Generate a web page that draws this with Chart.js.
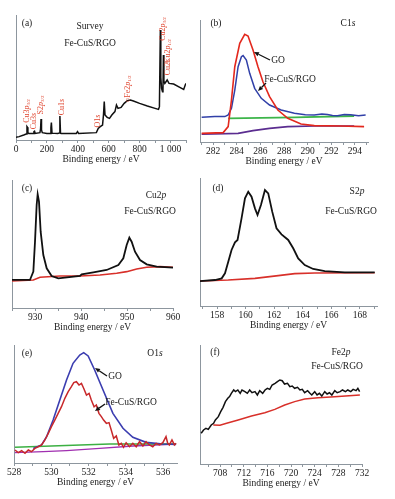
<!DOCTYPE html>
<html>
<head>
<meta charset="utf-8">
<script src="https://cdn.jsdelivr.net/npm/chart.js@4.4.1/dist/chart.umd.min.js"></script>
<style>
html,body{margin:0;padding:0;background:#fff;}
body{width:395px;height:499px;position:relative;overflow:hidden;font-family:"Liberation Serif","Times New Roman",serif;}
.t{position:absolute;font-size:9.5px;color:#1a1a1a;white-space:nowrap;line-height:1;transform:translate(-50%,-50%);}
.r{position:absolute;font-size:8px;color:#e0452f;white-space:nowrap;line-height:1;transform:translate(-50%,-50%) rotate(-90deg);}
.r sub{font-size:5px;vertical-align:-1px;}
svg{position:absolute;left:0;top:0;}
</style>
</head>
<body>
<script>
// (a) survey spectrum
const surveyE = [0,20,50,66,71,74,77,82,110,116,120,124,155,159,162,165,170,200,222,226,229,233,270,280,284,288,292,390,398,405,520,532,545,560,566,571,576,590,605,620,640,650,660,680,700,720,740,760,800,850,900,922,928,934,937,942,948,951,954,957,963,978,990,1020,1060,1085,1095,1100];
const surveyI = [2.1,2.7,4,4.8,10.7,10.2,5.8,5.3,5.3,6.7,7.0,5.3,5.9,9,16.8,8,5.9,5.3,5.3,10,13.9,5.5,5.3,5.6,19.2,5.5,5.3,5.3,6.7,5.3,5.9,9.3,10.7,12,20,30.7,20,18.1,17.3,20,22.7,28,25.3,26.1,29.3,31.5,32,31.2,29.3,27.2,25.3,24.5,26.7,88,50,41.3,38.7,40,68,47,45.3,48,45.3,44.8,42.1,40.5,44,45.3];

// (b) C1s
const c1sGoE = [281.04,282.86,283.28,283.56,283.84,284.26,284.68,284.96,285.38,285.80,286.22,286.78,287.48,288.32,289.44,290.56,292.80,294.77];
const c1sGoI = [7.1,7.7,12.6,34.4,61.7,80.9,88.3,86.9,75.4,61.7,49.4,37.2,26.2,19.4,14.8,13.4,13.1,12.6];
const c1sFeE = [281.04,282.16,283.0,283.28,283.56,283.84,284.12,284.40,284.54,284.82,285.10,285.52,286.08,286.78,287.76,288.88,289.8,290.56,291.2,291.68,292.1,292.52,293.1,293.64,294.3,294.9];
const c1sFeI = [20.2,20.8,20.8,22.1,27.6,42.6,61.7,69.9,70.8,67.2,56.3,44.0,35.8,30.3,26.2,23.5,22.4,22.1,23.0,22.6,21.8,21.5,22.6,22.4,21.6,22.1];
const c1sBgGreenE = [283.28,288.9,293.93];
const c1sBgGreenI = [19.4,20.2,21.3];
const c1sBgPurpleE = [281.04,284.12,285.38,286.78,288.32,290.56,293.93];
const c1sBgPurpleI = [6.3,7.1,9.3,11.2,12.6,13.1,13.1];

// (c) Cu2p
const cu2pE = [925,928.9,929.64,930.0,930.36,930.58,930.87,931.23,931.81,932.54,933.62,935.07,939.78,940.15,942.68,945.58,948.12,949.20,949.93,950.51,951.01,951.74,952.83,954.28,956.45,960];
const cu2pI = [21.9,21.9,28.4,51.8,80.5,88.8,83.1,59.6,41.4,31.0,25.0,23.2,25.0,26.3,27.9,29.7,33.6,38.8,49.2,54.9,51.8,44.0,37.5,34.1,32.3,31.5];
const cu2pBgE = [925,929.64,931.09,935.43,939.78,944.13,947.75,949.93,952.10,954.28,957.17,960];
const cu2pBgI = [21.1,21.9,24.0,25.0,25.0,25.8,27.1,28.4,30.5,31.8,32.3,31.8];

// (d) S2p
const s2pE = [156.8,157.85,158.32,158.55,158.78,159.01,159.25,159.43,159.71,159.95,160.18,160.41,160.65,160.83,161.07,161.35,161.58,161.86,162.16,162.51,162.98,163.33,163.68,164.14,164.73,165.54,166.94,169.04];
const s2pI = [19.5,20.3,21.6,25.5,34.6,43.8,49.7,51.6,68.5,84.1,89.3,85.4,76.3,71.1,78.9,90.6,88.0,73.7,60.7,56.0,51.6,45.1,37.2,32.0,28.9,27.3,26.3,26.3];
const s2pBgE = [156.8,158.78,160.65,162.28,163.44,164.84,169.04];
const s2pBgI = [19.5,20.3,21.6,23.7,25.3,25.8,26.0];

// (e) O1s
const o1sGoE = [529.03,529.48,529.75,530.10,530.46,530.82,531.17,531.53,531.74,531.98,532.33,532.78,533.31,533.85,534.38,535.09,535.99,536.70];
const o1sGoI = [12.4,15.3,22.3,36.4,53.4,70.3,84.5,91.5,93.5,90.7,78.8,61.9,42.1,29.4,21.8,17.5,16.1,15.8];
const o1sFeE = [528.05,528.23,528.41,528.59,528.77,528.94,529.12,529.30,529.48,529.66,529.84,530.01,530.19,530.37,530.55,530.73,530.91,531.08,531.21,531.35,531.49,531.62,531.74,531.89,532.03,532.15,532.30,532.42,532.56,532.69,532.81,532.96,533.10,533.22,533.35,533.49,533.63,533.76,533.88,534.02,534.20,534.38,534.56,534.74,534.92,535.09,535.27,535.45,535.63,535.81,535.99,536.16,536.25,536.34,536.48,536.61,536.70];
const o1sFeI = [11.0,8.8,10.5,8.2,11.0,9.6,12.4,13.8,15.3,19.5,25.1,30.8,36.4,42.1,47.7,54.8,60.5,64.7,68.1,68.9,66.1,67.5,63.3,57.6,59.0,53.4,47.7,49.2,42.1,39.3,36.4,33.6,34.2,28.0,20.9,22.9,15.3,16.7,13.3,17.2,13.8,16.7,13.8,18.1,14.4,18.1,15.3,13.8,16.7,15.3,17.2,22.3,16.7,15.3,19.5,15.3,16.7];
const o1sBgGreenE = [528.05,533.13,536.70];
const o1sBgGreenI = [13.3,16.1,16.1];
const o1sBgPurpleE = [528.05,529.57,530.82,532.60,534.38,536.70];
const o1sBgPurpleI = [8.8,9.6,10.5,12.4,14.4,16.1];

// (f) Fe2p
const fe2pE = [704.8,705.2,705.6,706.0,706.5,706.9,707.2,707.7,708.1,708.5,708.9,709.3,709.6,709.9,710.3,710.6,711.0,711.4,711.7,712.2,712.6,713.0,713.4,713.9,714.3,714.7,715.2,715.6,716.0,716.4,716.8,717.3,717.7,718.1,718.5,718.9,719.4,719.8,720.2,720.6,721.1,721.5,721.9,722.3,722.8,723.2,723.5,724.0,724.4,724.8,725.2,725.7,726.1,726.5,726.9,727.4,727.8,728.3,728.7,729.2,729.6,730.1,730.5,731.0,731.3,731.6];
const fe2pI = [25.8,28.6,30.0,29.1,32.8,34.2,37.0,39.8,44.0,47.6,52.4,55.2,56.6,59.4,62.2,60.8,62.2,59.4,62.2,60.8,59.4,62.2,59.9,60.8,58.0,61.6,59.4,62.2,63.6,62.7,66.4,67.8,69.2,70.6,70.0,67.2,67.8,65.0,65.5,63.6,64.4,62.2,62.7,59.9,61.6,59.4,58.0,60.8,58.0,59.4,57.1,60.8,58.8,59.9,58.0,61.6,59.9,60.8,62.2,60.8,62.2,60.8,62.7,61.6,63.6,60.8];
const fe2pBgE = [706.85,707.97,709.10,711.06,713.31,715.56,717.25,718.93,720.62,722.31,724.56,727.37,731.64];
const fe2pBgI = [32.8,32.6,34.2,37.0,40.3,43.1,45.9,49.6,52.4,54.6,55.7,56.6,58.0];

const AX = '#8d969e', INK = '#1a1a1a', FONT = '"Liberation Serif", "Times New Roman", serif';

const pts = (xs, ys) => xs.map((x, i) => ({x: x, y: ys[i]}));

function panel(box, xOpt, series) {
	let padL = 12, padR = 14, padT = 4, axisH = 25,
		w = Math.round(box.r - box.l) + padL + padR,
		h = (box.b - box.t) + padT + axisH,
		cv = document.createElement('canvas');
	cv.width = w; cv.height = h;
	cv.style.cssText = 'position:absolute;left:' + (box.l - padL) + 'px;top:' + (box.t - padT) + 'px;width:' + w + 'px;height:' + h + 'px';
	document.body.appendChild(cv);
	new Chart(cv, {
		type: 'line',
		data: {datasets: series.map(s => ({
			data: pts(s.x, s.y),
			borderColor: s.c,
			borderWidth: s.w || 1.4,
			pointRadius: 0,
			tension: 0,
			fill: false
		}))},
		options: {
			responsive: false,
			animation: false,
			events: [],
			layout: {padding: {left: padL, right: padR, top: padT, bottom: 0}},
			plugins: {legend: {display: false}, tooltip: {enabled: false}},
			scales: {
				x: {
					type: 'linear',
					min: xOpt.min, max: xOpt.max,
					afterFit: s => { s.height = axisH; },
					//tick marks on every step, whatever the axis bounds are
					afterBuildTicks: s => {
						let t = [], v = Math.ceil(xOpt.min / xOpt.step - 1e-9) * xOpt.step;
						for (; v <= xOpt.max + 1e-9; v += xOpt.step) t.push({value: Math.round(v * 1000) / 1000});
						s.ticks = t;
					},
					border: {display: true, color: AX, width: 1},
					grid: {display: true, drawOnChartArea: false, drawTicks: true, tickLength: 3, color: AX},
					ticks: {
						autoSkip: false, maxRotation: 0, padding: 1,
						color: INK, font: {family: FONT, size: 9.5},
						callback: v => {
							let q = v / xOpt.label;
							if (Math.abs(q - Math.round(q)) > 1e-6) return '';
							return v === 1000 ? '1 000' : v;
						}
					},
					title: {display: true, text: 'Binding energy / eV', color: INK, font: {family: FONT, size: 9.5}, padding: 0}
				},
				y: {
					min: 0, max: 100,
					afterFit: s => { s.width = 0; },
					border: {display: true, color: AX, width: 1},
					grid: {display: false},
					ticks: {display: false}
				}
			}
		}
	});
}

panel({l: 15.5, r: 185.5, t: 15, b: 140}, {min: 0, max: 1100, step: 100, label: 200}, [
	{x: surveyE, y: surveyI, c: '#111', w: 1.5}
]);
panel({l: 200, r: 368, t: 20, b: 142}, {min: 280.9, max: 295.1, step: 1, label: 2}, [
	{x: c1sGoE, y: c1sGoI, c: '#e3281d', w: 1.6},
	{x: c1sFeE, y: c1sFeI, c: '#3140a8', w: 1.5},
	{x: c1sBgGreenE, y: c1sBgGreenI, c: '#3db54a', w: 1.8},
	{x: c1sBgPurpleE, y: c1sBgPurpleI, c: '#5b2d90', w: 1.6}
]);
panel({l: 12, r: 173, t: 180, b: 308}, {min: 925, max: 960, step: 5, label: 10}, [
	{x: cu2pE, y: cu2pI, c: '#111', w: 1.8},
	{x: cu2pBgE, y: cu2pBgI, c: '#d8302a', w: 1.6}
]);
panel({l: 200, r: 377, t: 178, b: 306}, {min: 156.8, max: 169.2, step: 1, label: 2}, [
	{x: s2pE, y: s2pI, c: '#111', w: 1.8},
	{x: s2pBgE, y: s2pBgI, c: '#d8302a', w: 1.6}
]);
panel({l: 14, r: 177, t: 345, b: 463}, {min: 528, max: 536.75, step: 1, label: 2}, [
	{x: o1sFeE, y: o1sFeI, c: '#c8282a', w: 1.5},
	{x: o1sGoE, y: o1sGoI, c: '#3b3db0', w: 1.6},
	{x: o1sBgGreenE, y: o1sBgGreenI, c: '#3cb043', w: 1.6},
	{x: o1sBgPurpleE, y: o1sBgPurpleI, c: '#a02fb0', w: 1.4}
]);
panel({l: 200, r: 362, t: 345, b: 464}, {min: 704.6, max: 732, step: 2, label: 4}, [
	{x: fe2pE, y: fe2pI, c: '#111', w: 1.5},
	{x: fe2pBgE, y: fe2pBgI, c: '#d8302a', w: 1.5}
]);

// text labels
const labels = [
	['(a)', 27, 24], ['Survey', 90, 27], ['Fe-CuS/RGO', 90, 44],
	['(b)', 216, 24], ['C1<i>s</i>', 348, 24], ['GO', 278, 61], ['Fe-CuS/RGO', 290, 80],
	['(c)', 27, 189], ['Cu2<i>p</i>', 156, 196], ['Fe-CuS/RGO', 150, 212],
	['(d)', 218, 189], ['S2<i>p</i>', 357, 192], ['Fe-CuS/RGO', 351, 212],
	['(e)', 27, 354], ['O1<i>s</i>', 155, 354], ['GO', 115, 377], ['Fe-CuS/RGO', 131, 403],
	['(f)', 215, 353], ['Fe2<i>p</i>', 341, 353], ['Fe-CuS/RGO', 337, 367]
];
labels.forEach(([txt, x, y]) => {
	let d = document.createElement('div');
	d.className = 't';
	d.innerHTML = txt;
	d.style.left = x + 'px'; d.style.top = y + 'px';
	document.body.appendChild(d);
});

// peak assignments in the survey
const peakLabels = [
	['Cu3<i>p</i><sub>3/2</sub>', 27, 111], ['Cu3<i>s</i>', 34, 121], ['S2<i>p</i><sub>3/2</sub>', 41, 105],
	['Cu1<i>s</i>', 62, 107], ['O1<i>s</i>', 98, 121], ['○Fe2<i>p</i><sub>1/2</sub>', 128, 89],
	['Cu2<i>p</i><sub>3/2</sub>', 163, 29], ['Cu2<i>p</i><sub>1/2</sub>', 168, 51], ['Cu2<i>s</i>', 168, 67]
];
peakLabels.forEach(([txt, x, y]) => {
	let d = document.createElement('div');
	d.className = 'r';
	d.innerHTML = txt;
	d.style.left = x + 'px'; d.style.top = y + 'px';
	document.body.appendChild(d);
});

// arrows pointing at the curves
const arrows = [[270, 60, 254, 52], [266, 83, 258, 91], [107, 376, 95, 368], [105, 404, 95, 411]];
let svg = '<svg width="395" height="499" xmlns="http://www.w3.org/2000/svg">';
arrows.forEach(([x1, y1, x2, y2]) => {
	let a = Math.atan2(y2 - y1, x2 - x1), L = 5, S = 2.2,
		bx = x2 - L * Math.cos(a), by = y2 - L * Math.sin(a),
		px = -Math.sin(a) * S, py = Math.cos(a) * S;
	svg += '<line x1="' + x1 + '" y1="' + y1 + '" x2="' + bx + '" y2="' + by + '" stroke="#111" stroke-width="1.3"/>';
	svg += '<polygon points="' + x2 + ',' + y2 + ' ' + (bx + px) + ',' + (by + py) + ' ' + (bx - px) + ',' + (by - py) + '" fill="#111"/>';
});
svg += '</svg>';
document.body.insertAdjacentHTML('beforeend', svg);
</script>
</body>
</html>
